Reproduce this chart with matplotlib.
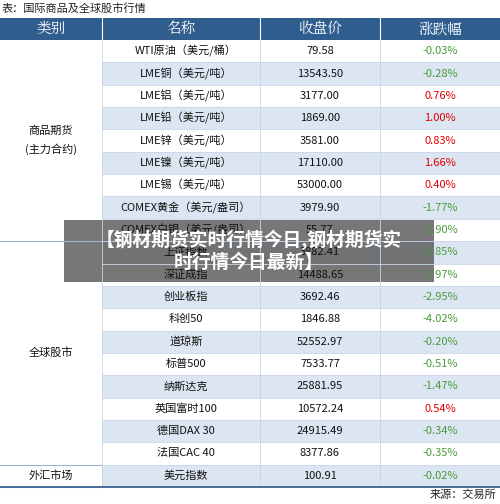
import matplotlib
matplotlib.use("Agg")
import matplotlib.pyplot as plt
from matplotlib.patches import Rectangle

plt.rcParams['font.family'] = ['Noto Sans CJK SC', 'DejaVu Sans']

title = "表：国际商品及全球股市行情"
headers = ["类别", "名称", "收盘价", "涨跌幅"]
names = ["WTI原油（美元/桶）", "LME铜（美元/吨）", "LME铝（美元/吨）", "LME铅（美元/吨）",
         "LME锌（美元/吨）", "LME镍（美元/吨）", "LME锡（美元/吨）", "COMEX黄金（美元/盎司）",
         "COMEX白银（美元/盎司）", "上证指数", "深证成指", "创业板指", "科创50", "道琼斯",
         "标普500", "纳斯达克", "英国富时100", "德国DAX 30", "法国CAC 40", "美元指数"]
prices = ["79.58", "13543.50", "3177.00", "1869.00", "3581.00", "17110.00", "53000.00",
          "3979.90", "55.77", "3882.41", "14488.65", "3692.46", "1846.88", "52552.97",
          "7533.77", "25881.95", "10572.24", "24915.49", "8377.86", "100.91"]
changes = [-0.03, -0.28, 0.76, 1.00, 0.83, 1.66, 0.40, -1.77, -2.90, -1.85, -1.97,
           -2.95, -4.02, -0.20, -0.51, -1.47, 0.54, -0.34, -0.35, -0.02]
groups = [("商品期货\n(主力合约)", 0, 9), ("全球股市", 9, 19), ("外汇市场", 19, 20)]
source = "来源：交易所"
overlay = "【钢材期货实时行情今日,钢材期货实\n时行情今日最新】"

W, H = 500, 504
fig = plt.figure(figsize=(5, 5.04), dpi=100)
ax = fig.add_axes([0, 0, 1, 1])
ax.set_xlim(0, W); ax.set_ylim(H, 0); ax.axis('off')

cols = [0, 102, 260, 380, 500]
hy0, hy1 = 18, 40
rh = (487 - hy1) / len(names)
ax.text(2, 8, title, fontsize=8, va='center', ha='left', color='#222')
ax.add_patch(Rectangle((0, hy0), W, hy1 - hy0, color='#2f5d8e', lw=0))
for i, h in enumerate(headers):
    ax.text((cols[i] + cols[i+1]) / 2, (hy0 + hy1) / 2, h, color='white', fontsize=10.5,
            ha='center', va='center', family=['Noto Serif CJK SC', 'Noto Sans CJK SC'])
    if i > 0:
        ax.plot([cols[i]] * 2, [hy0, hy1], color='white', lw=0.8)

for r, (n, p, c) in enumerate(zip(names, prices, changes)):
    y0 = hy1 + r * rh
    yc = y0 + rh / 2
    if r % 2 == 1:
        ax.add_patch(Rectangle((cols[1], y0), W - cols[1], rh, color='#dce6f2', lw=0))
    ax.plot([cols[1], W], [y0 + rh] * 2, color='#c9d6e6', lw=0.6)
    ax.text(186, yc, n, fontsize=8, ha='center', va='center', color='#111')
    ax.text(320, yc, p, fontsize=8, ha='center', va='center', color='#111')
    ax.text(440, yc, f"{c:.2f}%", fontsize=8, ha='center', va='center',
            color='#e00000' if c > 0 else '#4a9a3a')

for lab, a, b in groups:
    ya, yb = hy1 + a * rh, hy1 + b * rh
    ax.text(51, (ya + yb) / 2, lab, fontsize=8, ha='center', va='center',
            color='#111', linespacing=1.8)
    ax.plot([0, cols[1]], [yb, yb], color='#9fb3cc', lw=0.8)
for x in cols[1:4]:
    ax.plot([x, x], [hy1, 487], color='#c9d6e6', lw=0.6)
ax.plot([0, W], [487, 487], color='#2f5d8e', lw=1.2)
ax.text(W - 4, 495, source, fontsize=8, ha='right', va='center', color='#222')

ax.add_patch(Rectangle((64, 220), 370, 62, color='#555555', alpha=0.8, lw=0))
ax.text(249, 251, overlay, fontsize=13.5, fontweight='bold', color='white',
        ha='center', va='center', linespacing=1.2)

fig.savefig("out.png", dpi=100)
